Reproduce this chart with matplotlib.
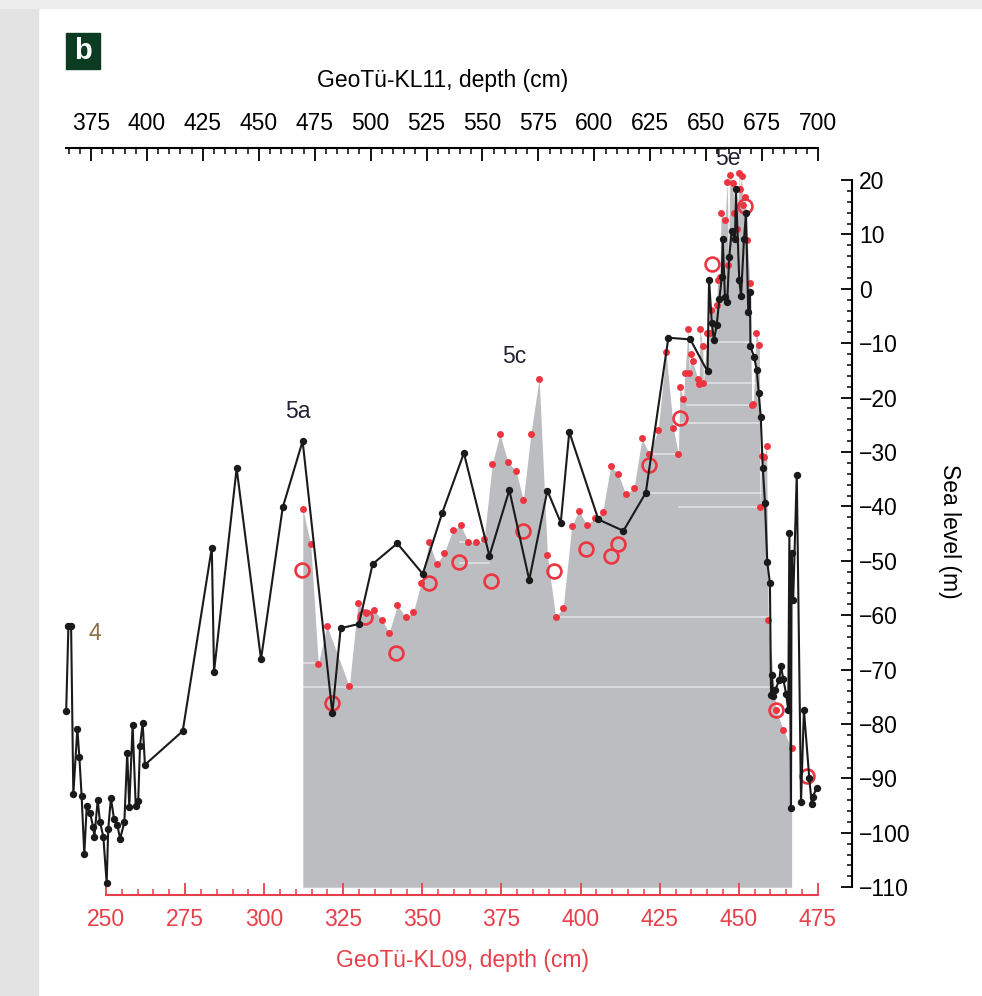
import numpy as np
import matplotlib.pyplot as plt
from matplotlib.patches import Rectangle
from matplotlib.ticker import FixedLocator

plt.rcParams['font.family'] = ['Liberation Sans', 'DejaVu Sans']

RED = '#e8404a'
GREY = '#bcbdc0'

# GeoTü-KL11: depth (cm) and sea level (m), black curve on the top axis
kl11_depth = [363.9, 364.9, 366.1, 367.1, 368.9, 369.8, 370.8, 372.0, 373.1, 374.6,
              376.0, 376.5, 378.0, 379.0, 380.5, 382.0, 382.7, 383.9, 385.3, 386.8,
              388.0, 389.9, 391.2, 392.1, 393.6, 395.0, 396.1, 396.9, 398.1, 399.1,
              416.0, 429.0, 430.0, 440.1, 451.0, 460.7, 469.6, 482.9, 486.6, 494.8,
              500.9, 511.9, 523.3, 532.0, 541.7, 553.1, 562.0, 570.9, 579.0, 585.0,
              588.8, 601.8, 613.0, 623.0, 633.1, 642.9, 650.6, 651.3, 652.5, 653.5,
              654.7, 655.9, 657.0, 657.4, 658.4, 659.4, 660.3, 661.4, 662.9, 663.3,
              664.8, 665.6, 666.9, 667.8, 668.8, 669.6, 669.8, 671.4, 672.6, 673.5,
              674.4, 675.3, 676.3, 677.3, 678.5, 679.0, 679.3, 680.0, 680.8, 682.7,
              683.4, 684.5, 685.7, 686.7, 687.2, 687.9, 688.2, 688.9, 690.5, 692.4,
              693.7, 696.1, 697.2, 697.6, 699.4]
kl11_sl = [-77.6, -62.0, -62.0, -92.9, -80.9, -86.1, -93.2, -103.9, -95.1, -96.4,
           -99.0, -100.7, -94.0, -98.0, -100.7, -109.2, -99.3, -93.6, -97.5, -98.6,
           -101.1, -98.1, -85.3, -95.3, -80.2, -95.1, -94.2, -84.0, -79.8, -87.5,
           -81.3, -47.6, -70.4, -33.0, -68.1, -40.2, -28.0, -78.0, -62.4, -61.6,
           -50.6, -46.8, -52.4, -41.2, -30.2, -49.1, -37.0, -53.5, -37.1, -43.0,
           -26.3, -42.4, -44.5, -37.5, -9.0, -9.3, -15.2, 1.7, -6.3, -9.4,
           -6.7, -1.9, 2.2, 9.1, -1.5, -2.4, 5.8, 10.6, 9.1, 18.3,
           1.6, -1.3, 9.1, 13.9, -4.2, -0.5, -10.6, -12.5, -14.9, -19.2,
           -23.6, -33.0, -39.4, -50.2, -54.1, -74.7, -71.0, -74.9, -73.8, -71.9,
           -69.3, -71.8, -74.4, -77.4, -44.9, -95.5, -48.6, -57.2, -34.2, -94.3,
           -77.4, -90.0, -94.7, -93.4, -91.8]

# GeoTü-KL09: depth (cm) and sea level (m), grey area with red dots
kl09_depth = [312.2, 314.7, 317.1, 319.8, 326.9, 329.6, 332.2, 334.7, 337.1, 339.5,
              342.1, 344.7, 347.1, 349.6, 352.1, 354.5, 356.9, 359.6, 362.1, 364.5,
              367.0, 369.5, 372.1, 374.5, 377.0, 379.6, 381.9, 384.3, 386.9, 389.5,
              392.1, 394.5, 397.2, 399.5, 401.9, 404.6, 407.0, 409.5, 411.9, 414.3,
              416.9, 419.4, 421.7, 424.5, 427.0, 429.3, 430.9, 431.4, 432.5, 433.0,
              434.0, 434.4, 434.9, 435.4, 437.0, 437.5, 437.7, 438.6, 438.8, 440.0,
              440.9, 441.1, 443.0, 443.3, 444.0, 444.4, 445.6, 446.4, 446.7, 447.2,
              448.1, 448.5, 449.3, 450.2, 450.4, 450.9, 451.4, 452.0, 452.7, 453.5,
              454.1, 454.6, 455.4, 456.5, 456.7, 457.2, 458.1, 458.8, 459.3, 461.8,
              464.1, 466.7]
kl09_sl = [-40.5, -47.0, -69.0, -61.9, -73.1, -57.8, -59.6, -59.0, -60.8, -63.2,
           -58.1, -60.4, -59.5, -54.1, -46.5, -50.6, -48.6, -44.3, -43.5, -46.5,
           -46.6, -46.0, -32.2, -26.7, -31.8, -33.5, -38.8, -26.6, -16.5, -48.9,
           -60.4, -58.6, -43.6, -40.8, -43.4, -42.2, -41.0, -32.6, -34.0, -37.8,
           -36.6, -27.5, -30.4, -26.0, -11.7, -25.6, -30.4, -18.1, -20.3, -15.4,
           -7.4, -15.5, -11.9, -13.3, -16.5, -17.5, -7.4, -10.6, -17.4, -8.2,
           -8.1, -3.9, -3.0, 1.6, 2.2, 14.0, 12.6, 19.7, 4.4, 20.9,
           19.4, 13.9, 10.9, 21.2, 18.3, 20.7, 15.4, 16.9, 9.0, 1.0,
           -21.4, -21.2, -8.1, -10.3, -40.2, -30.7, -31.0, -28.9, -60.8, -77.4,
           -81.1, -84.5]

# KL09 levels marked with open circles
circ_depth = [311.9, 321.5, 331.9, 341.7, 352.1, 361.7, 371.7, 381.7, 391.7,
              401.7, 409.6, 411.9, 421.7, 431.4, 441.4, 452.0, 461.8, 471.6]
circ_sl = [-51.6, -76.2, -60.4, -67.0, -54.0, -50.3, -53.7, -44.5, -51.8,
           -47.8, -49.2, -47.0, -32.3, -23.8, 4.5, 15.2, -77.4, -89.6]

# light seams running across the grey area: (level, from, to)
seams = [(-9.7, 436, 456), (-17.3, 437, 455), (-21.4, 433.6, 455),
         (-24.7, 432, 457), (-30.4, 422, 431), (-37.5, 422, 457),
         (-40.1, 431, 457), (-46.5, 362, 370), (-50.4, 362, 371),
         (-60.3, 392, 460), (-68.8, 312, 317), (-73.2, 312, 462)]

fig = plt.figure(figsize=(9.82, 9.96), dpi=100)
fig.patches.append(Rectangle((0, 0), 38 / 982, 1, transform=fig.transFigure,
                             color='#e3e3e3', zorder=0))
fig.patches.append(Rectangle((0, 1 - 8 / 996), 1, 8 / 996, transform=fig.transFigure,
                             color='#ededed', zorder=0))

ax = fig.add_axes([60 / 982, 101 / 996, 792 / 982, 747 / 996])
ax.patch.set_visible(False)

fill = ax.fill_between(kl09_depth, kl09_sl, -110, color=GREY, lw=0, zorder=1)
clip = fill.get_paths()[0]
for lev, x0, x1 in seams:
    ln, = ax.plot([x0, x1], [lev, lev], color='white', lw=1.2, alpha=0.55, zorder=1.5)
    ln.set_clip_path(clip, ax.transData)

ax.plot(kl09_depth, kl09_sl, 'o', color='#ec3540', ms=5, mew=0, zorder=2)
ax.plot(circ_depth, circ_sl, 'o', mfc='none', mec='#ec3540', ms=10, mew=1.9, zorder=3)

ax.set_xlim(235.46, 485.78)
ax.set_ylim(-111.43, 25.88)

ax.spines['left'].set_visible(False)
ax.spines['top'].set_visible(False)
ax.spines['bottom'].set_bounds(250, 475)
ax.spines['bottom'].set_color(RED)
ax.spines['bottom'].set_linewidth(1.5)
ax.spines['right'].set_bounds(-110, 20)
ax.spines['right'].set_linewidth(1.5)

ax.xaxis.set_major_locator(FixedLocator(np.arange(250, 476, 25)))
ax.xaxis.set_minor_locator(FixedLocator(np.arange(250, 476, 5)))
ax.tick_params(axis='x', which='major', direction='in', length=9, width=1.3,
               colors=RED, labelsize=16.5, pad=9)
ax.tick_params(axis='x', which='minor', direction='in', length=4, width=1.1, colors=RED)

ax.yaxis.tick_right()
ax.yaxis.set_major_locator(FixedLocator(np.arange(-110, 21, 10)))
ax.yaxis.set_minor_locator(FixedLocator(np.arange(-110, 21, 2)))
ax.tick_params(axis='y', which='major', direction='in', length=8, width=1.3,
               labelsize=16.5, pad=5)
ax.tick_params(axis='y', which='minor', direction='in', length=3.5, width=1.1)

ax2 = ax.twiny()
ax2.plot(kl11_depth, kl11_sl, '-o', color='#1a1a1a', lw=1.5, ms=4.3, zorder=4)
ax2.set_xlim(361.14, 715.19)
for side in ['left', 'right', 'bottom']:
    ax2.spines[side].set_visible(False)
ax2.spines['top'].set_bounds(364, 700)
ax2.spines['top'].set_linewidth(1.5)
ax2.xaxis.set_major_locator(FixedLocator(np.arange(375, 701, 25)))
ax2.xaxis.set_minor_locator(FixedLocator(np.arange(365, 701, 5)))
ax2.tick_params(axis='x', which='major', direction='in', length=9, width=1.3,
                labelsize=16.5, pad=9)
ax2.tick_params(axis='x', which='minor', direction='in', length=4, width=1.1)

# stage labels
ax.text(246.5, -63.3, '4', color='#8c6d3f', fontsize=16.5, ha='center', va='center')
ax.text(310.7, -22.5, '5a', color='#222233', fontsize=16.5, ha='center', va='center')
ax.text(379.0, -12.4, '5c', color='#222233', fontsize=16.5, ha='center', va='center')
ax.text(446.6, 24.0, '5e', color='#222233', fontsize=16.5, ha='center', va='center')

fig.text(443 / 982, 1 - 81 / 996, 'GeoTü-KL11, depth (cm)', fontsize=16.5,
         ha='center', va='center')
fig.text(462 / 982, 1 - 960 / 996, 'GeoTü-KL09, depth (cm)', fontsize=16.5,
         color=RED, ha='center', va='center')
fig.text(950 / 982, 1 - 531 / 996, 'Sea level (m)', fontsize=16.5, rotation=270,
         ha='center', va='center')

# panel letter
fig.patches.append(Rectangle((66 / 982, 1 - 69 / 996), 34 / 982, 36 / 996,
                             transform=fig.transFigure, color='#0b3b20', zorder=5))
fig.text(83 / 982, 1 - 51 / 996, 'b', color='white', fontsize=21, fontweight='bold',
         ha='center', va='center', zorder=6)

fig.savefig('out.png', dpi=100)
